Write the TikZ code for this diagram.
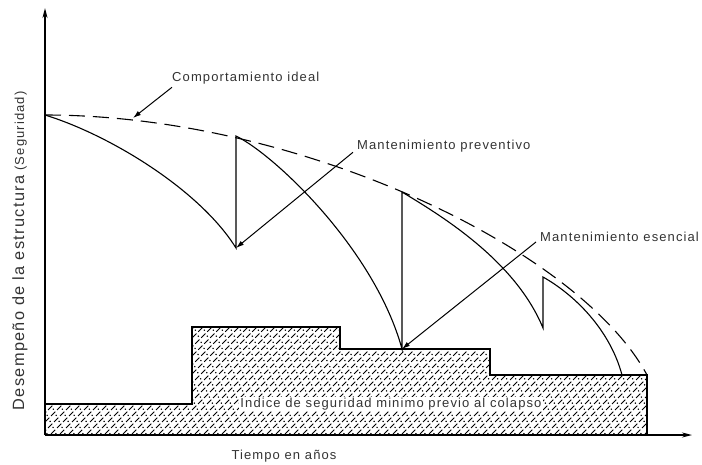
\documentclass[tikz,border=0pt]{standalone}
\usepackage{fontspec}
\setmainfont{Liberation Sans}[LetterSpace=8.5]
\usetikzlibrary{arrows.meta}
\tikzset{
  rotulo/.style={font=\fontsize{13}{15}\selectfont, text=black!80, inner sep=0pt},
  curva/.style={line width=1.1pt},
  rayado/.style={black, line width=1pt},
  flecha/.style={line width=1pt, -{Latex[length=8pt,width=5pt]}},
  eje/.style={line width=1.4pt, -{Stealth[length=10pt,width=5pt]}},
}
\begin{document}
\begin{tikzpicture}[x=1pt, y=-1pt]
            \useasboundingbox (0,0) rectangle (702,464);

            % zona rayada (indice minimo)
            \begin{scope}
                \clip (45,435) -- (45,404) -- (192,404) -- (192,327) -- (340,327) -- (340,349)
                    -- (490,349) -- (490,375) -- (647,375) -- (647,435) -- cycle;
                \foreach \x in {0,9,...,650} {
                    \draw[rayado, dash pattern=on 6pt off 2.5pt] (\x,440) -- ++(130,-130);
                    \draw[rayado, line width=1.1pt, dash pattern=on 1.1pt off 7.5pt] (\x+4.5,440) -- ++(130,-130);
                }
            \end{scope}
            \draw[line width=1.2pt] (45,404) -- (192,404) -- (192,327) -- (340,327) -- (340,349)
                -- (490,349) -- (490,375) -- (647,375) -- (647,435);
            \node[rotulo, fill=white, inner sep=1pt] (indice) at (391,404) {Indice de seguridad minimo previo al colapso};

            % ejes
            \coordinate (origen) at (45,435);
            \coordinate (ytope) at (45,8);
            \coordinate (xfin) at (692,435);
            \draw[eje] (origen) -- (ytope);
            \draw[eje] (origen) -- (xfin);
            \node[rotulo] (tiempo) at (284,456) {Tiempo en años};
            \node[rotulo, rotate=90] (desempeno) at (20,251) {{\fontsize{16.3}{18}\selectfont Desempeño de la estructura} (Seguridad)};

            % puntos de las curvas
            \coordinate (p0) at (45,115);
            \coordinate (p1) at (236,136);
            \coordinate (v1) at (236,248);
            \coordinate (p2) at (402,192);
            \coordinate (v2) at (402,349);
            \coordinate (p3) at (543,277);
            \coordinate (v3) at (543,328);
            \coordinate (v4) at (622,375);
            \coordinate (fin) at (647,375);

            % comportamiento ideal y real
            \draw[curva, dash pattern=on 16pt off 8pt] (p0) .. controls (300,115) and (580,250) .. (fin);
            \draw[curva] (p0) .. controls (110,135) and (200,190) .. (v1) -- (p1)
                .. controls (275,155) and (375,250) .. (v2) -- (p2)
                .. controls (440,215) and (515,260) .. (v3) -- (p3)
                .. controls (575,295) and (610,330) .. (v4);

            % rotulos con flechas
            \node[rotulo, anchor=west] (ideal) at (172,78) {Comportamiento ideal};
            \coordinate (ideal-pt) at (133,118);
            \draw[flecha] ([yshift=-3pt]ideal.south west) -- (ideal-pt);

            \node[rotulo, anchor=west] (preventivo) at (357,146) {Mantenimiento preventivo};
            \draw[flecha] ([xshift=-4pt]preventivo.south west) -- (v1);

            \node[rotulo, anchor=west] (esencial) at (540,237) {Mantenimiento esencial};
            \draw[flecha] ([xshift=-4pt]esencial.south west) -- (v2);
\end{tikzpicture}
\end{document}
